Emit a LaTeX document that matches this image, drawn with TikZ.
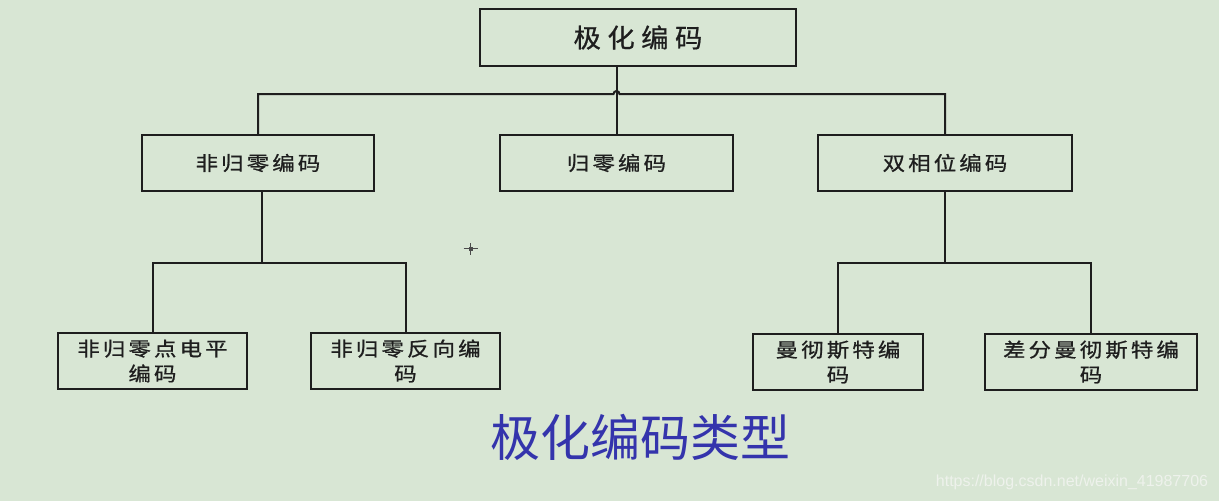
\documentclass[tikz,border=0pt]{standalone}
\usepackage{fontspec}
\usepackage{graphicx}
\setmainfont{Liberation Sans}
\newfontfamily\cjkbox[LetterSpace=14,FakeBold=0.8]{Noto Sans CJK SC}
\newfontfamily\cjktop[LetterSpace=24,FakeBold=0.8]{Noto Sans CJK SC}
\newfontfamily\cjktitle{Noto Sans CJK SC}
\newcommand\hsc[1]{\scalebox{1.15}[1]{#1}}
\newcommand\hsct[1]{\scalebox{1.05}[1]{#1}}
\definecolor{bg}{RGB}{216,230,212}
\definecolor{ink}{RGB}{30,30,30}
\definecolor{titleblue}{RGB}{52,52,172}
\definecolor{wm}{RGB}{238,242,236}
\begin{document}
\begin{tikzpicture}[x=1pt,y=-1pt,
  box/.style={draw=ink,line width=2pt,inner sep=0pt,minimum height=56pt,text=ink,align=center,font=\cjkbox\fontsize{19.5}{25}\selectfont},
  conn/.style={draw=ink,line width=2pt}]
\fill[bg] (0,0) rectangle (1219,501);
\useasboundingbox (0,0) rectangle (1219,501);
% nodes
\node[box,minimum width=316pt,minimum height=57pt,font=\cjktop\fontsize{26}{28}\selectfont] (top) at (638,37.5) {\hsct{极化编码}};
\node[box,minimum width=232pt] (n1) at (258,163) {\hsc{非归零编码}};
\node[box,minimum width=233pt] (n2) at (616.5,163) {\hsc{归零编码}};
\node[box,minimum width=254pt] (n3) at (945,163) {\hsc{双相位编码}};
\node[box,minimum width=189pt] (a1) at (152.5,361) {\hsc{非归零点电平}\\\hsc{编码}};
\node[box,minimum width=189pt] (a2) at (405.5,361) {\hsc{非归零反向编}\\\hsc{码}};
\node[box,minimum width=170pt] (b1) at (838,362) {\hsc{曼彻斯特编}\\\hsc{码}};
\node[box,minimum width=212pt] (b2) at (1091,362) {\hsc{差分曼彻斯特编}\\\hsc{码}};
% connectors
\coordinate (J) at (616.5,94);
\coordinate (L) at (262,263);
\coordinate (R) at (945,263);
\draw[conn] (top.south -| n2.north) -- (n2.north);
\draw[conn] (n1.north) |- ([xshift=-3pt]J) arc[start angle=180,end angle=0,radius=3pt] -| (n3.north);
\draw[conn] (n1.south -| L) -- (L);
\draw[conn] (a1.north) |- (L) -| (a2.north);
\draw[conn] (n3.south) -- (R);
\draw[conn] (b1.north) |- (R) -| (b2.north);
% small cursor mark
\coordinate (cm) at (470.5,248.5);
\draw[ink!80,line width=1.4pt] ([xshift=-7pt]cm) -- ([xshift=7pt]cm);
\draw[ink!80,line width=1.4pt] ([yshift=-6pt]cm) -- ([yshift=6pt]cm);
\fill[ink!80] ([xshift=-2pt,yshift=-2pt]cm) rectangle ([xshift=2pt,yshift=2pt]cm);
% title
\node[text=titleblue,font=\cjktitle\fontsize{50}{56}\selectfont,inner sep=0pt] (title) at (640,437) {极化编码类型};
% watermark
\node[text=wm,font=\fontsize{16}{18}\selectfont,inner sep=0pt] (wmk) at (1072,482) {https://blog.csdn.net/weixin\_41987706};
\end{tikzpicture}
\end{document}
